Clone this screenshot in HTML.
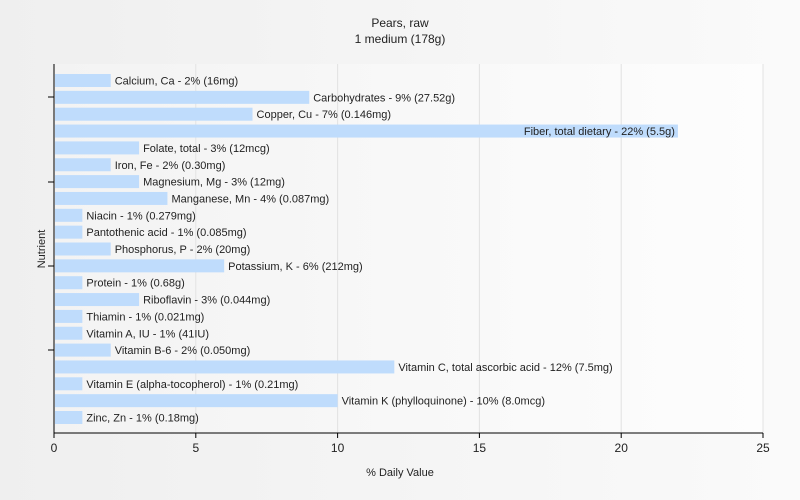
<!DOCTYPE html>
<html><head><meta charset="utf-8"><style>
html,body{margin:0;padding:0;overflow:hidden;}
body{width:800px;height:500px;background:linear-gradient(to right,#efefef,#fafafa);font-family:"Liberation Sans",sans-serif;}
svg{display:block;}
svg text{font-family:"Liberation Sans",sans-serif;}
</style></head><body>
<svg width="800" height="500">
<defs><linearGradient id="pg" x1="0" x2="1" y1="0" y2="0"><stop offset="0" stop-color="#f3f3f3"/><stop offset="1" stop-color="#fdfdfd"/></linearGradient></defs>
<text x="400" y="27" text-anchor="middle" font-size="12" fill="#222">Pears, raw</text>
<text x="400" y="43" text-anchor="middle" font-size="12" fill="#222">1 medium (178g)</text>
<rect x="54" y="64" width="709" height="369" fill="url(#pg)"/>
<g id="grid"></g>
<g id="bars"></g>
<line x1="54" y1="64" x2="54" y2="433" stroke="#000"/>
<line x1="54" y1="433" x2="763" y2="433" stroke="#000"/>
<line x1="48" y1="97" x2="54" y2="97" stroke="#000"/>
<line x1="48" y1="182" x2="54" y2="182" stroke="#000"/>
<line x1="48" y1="266" x2="54" y2="266" stroke="#000"/>
<line x1="48" y1="350" x2="54" y2="350" stroke="#000"/>
<g id="ticks"></g>
<text x="400" y="476" text-anchor="middle" font-size="11" fill="#222">% Daily Value</text>
<text x="45" y="249" text-anchor="middle" font-size="11" fill="#222" transform="rotate(-90 45 249)">Nutrient</text>
</svg>
<script>
const categories=["Calcium, Ca - 2% (16mg)","Carbohydrates - 9% (27.52g)","Copper, Cu - 7% (0.146mg)","Fiber, total dietary - 22% (5.5g)","Folate, total - 3% (12mcg)","Iron, Fe - 2% (0.30mg)","Magnesium, Mg - 3% (12mg)","Manganese, Mn - 4% (0.087mg)","Niacin - 1% (0.279mg)","Pantothenic acid - 1% (0.085mg)","Phosphorus, P - 2% (20mg)","Potassium, K - 6% (212mg)","Protein - 1% (0.68g)","Riboflavin - 3% (0.044mg)","Thiamin - 1% (0.021mg)","Vitamin A, IU - 1% (41IU)","Vitamin B-6 - 2% (0.050mg)","Vitamin C, total ascorbic acid - 12% (7.5mg)","Vitamin E (alpha-tocopherol) - 1% (0.21mg)","Vitamin K (phylloquinone) - 10% (8.0mcg)","Zinc, Zn - 1% (0.18mg)"];
const values=[2,9,7,22,3,2,3,4,1,1,2,6,1,3,1,1,2,12,1,10,1];
const xTicks=[0,5,10,15,20,25];
const NS="http://www.w3.org/2000/svg";
const x=v=>54+v*(709/25);
const grid=document.getElementById('grid'),bars=document.getElementById('bars'),ticks=document.getElementById('ticks');
xTicks.forEach(t=>{
 if(t>0){const l=document.createElementNS(NS,'line');l.setAttribute('x1',x(t));l.setAttribute('x2',x(t));l.setAttribute('y1',64);l.setAttribute('y2',433);l.setAttribute('stroke','#e2e2e2');
 
 
 grid.appendChild(l);}
 const tk=document.createElementNS(NS,'line');tk.setAttribute('x1',x(t));tk.setAttribute('x2',x(t));tk.setAttribute('y1',433);tk.setAttribute('y2',438);tk.setAttribute('stroke','#000');ticks.appendChild(tk);
 const tx=document.createElementNS(NS,'text');tx.setAttribute('x',x(t));tx.setAttribute('y',452);tx.setAttribute('text-anchor','middle');tx.setAttribute('font-size','12');tx.setAttribute('fill','#222');tx.textContent=t;
 
 
 ticks.appendChild(tx);
});
const n=categories.length;
const step=(411-74)/(n-1);
categories.forEach((c,i)=>{
 const yy=74+i*step;
 const r=document.createElementNS(NS,'rect');r.setAttribute('x',55);r.setAttribute('y',yy);r.setAttribute('width',x(values[i])-55);r.setAttribute('height',13);r.setAttribute('fill','#bfdcfc');
 
 
 bars.appendChild(r);
 const t=document.createElementNS(NS,'text');t.setAttribute('font-size','11');t.setAttribute('fill','#222');t.setAttribute('y',yy+10.5);t.textContent=c;
 
 
 if(values[i]>=20){t.setAttribute('x',x(values[i])-3);t.setAttribute('text-anchor','end');}else{t.setAttribute('x',x(values[i])+4);}
 bars.appendChild(t);
});
</script>
</body></html>
